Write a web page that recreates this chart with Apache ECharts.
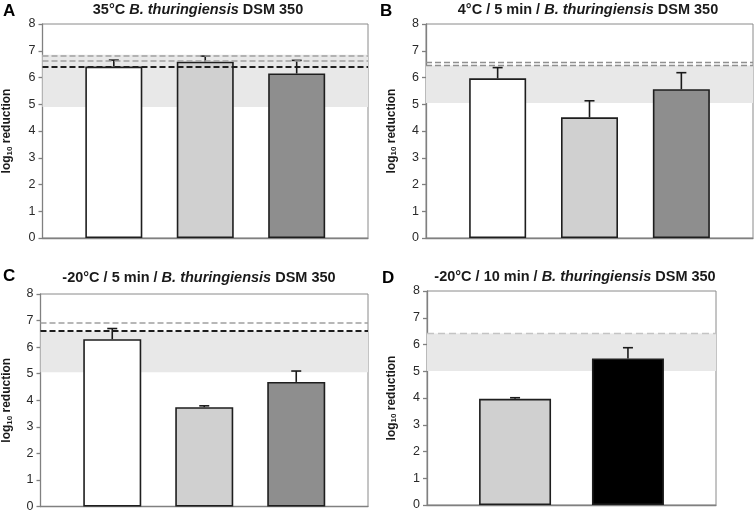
<!DOCTYPE html>
<html><head><meta charset="utf-8">
<script src="https://cdn.jsdelivr.net/npm/echarts@6/dist/echarts.min.js"></script>
<style>html,body{margin:0;padding:0;background:#fff}#c{width:755px;height:513px}</style>
</head><body><div id="c"></div>
<script>
// ---------------- data ----------------
const panelLetters = ['A', 'B', 'C', 'D'];
const titleLead = ['35°C ', '4°C / 5 min / ', '-20°C / 5 min / ', '-20°C / 10 min / '];
const titleSpecies = 'B. thuringiensis';
const titleTail = ' DSM 350';
const yTicks = [0, 1, 2, 3, 4, 5, 6, 7, 8];

// bar categories (position order) and kind of each bar
const catsA = [1, 2, 3]; const kindsA = ['white', 'light', 'dark'];
const meanA = [6.41, 6.59, 6.15]; const sdA = [0.24, 0.21, 0.49];
const bandA = [4.9, 6.85]; const greyLinesA = [6.81, 6.63]; const blackLinesA = [6.41];

const catsB = [1, 2, 3]; const kindsB = ['white', 'light', 'dark'];
const meanB = [5.97, 4.51, 5.56]; const sdB = [0.40, 0.62, 0.62];
const bandB = [5.05, 6.45]; const greyLinesB = [6.56, 6.45]; const blackLinesB = [];

const catsC = [1, 2, 3]; const kindsC = ['white', 'light', 'dark'];
const meanC = [6.30, 3.74, 4.69]; const sdC = [0.40, 0.05, 0.41];
const bandC = [5.05, 6.60]; const greyLinesC = [6.91]; const blackLinesC = [6.60];

const catsD = [1, 2]; const kindsD = ['light', 'black'];
const meanD = [3.97, 5.48]; const sdD = [0.04, 0.40];
const bandD = [5.01, 6.41]; const faintLinesD = [6.41];

// ---------------- styles / layout ----------------
const FONT = 'Arial, "Liberation Sans", sans-serif';
const fills = { white: '#ffffff', light: '#d0d0d0', dark: '#8e8e8e', black: '#000000' };
const grids = [
  { left: 42, top: 24, width: 326, height: 214 },
  { left: 426, top: 24, width: 327, height: 214 },
  { left: 39, top: 294, width: 329, height: 213 },
  { left: 427, top: 291, width: 289, height: 214 }
];
const titlePos = [{ x: 198, y: 2 }, { x: 588, y: 2 }, { x: 199, y: 270 }, { x: 575, y: 269 }];
const letterPos = [{ x: 3, y: 3 }, { x: 380, y: 3 }, { x: 3, y: 268 }, { x: 382, y: 270 }];
const nameGaps = [29, 28, 27, 29];
const barWidths = [57, 57, 58, 72];

const panels = [
  { cats: catsA, kinds: kindsA, mean: meanA, sd: sdA, band: bandA, grey: greyLinesA, black: blackLinesA, faint: [] },
  { cats: catsB, kinds: kindsB, mean: meanB, sd: sdB, band: bandB, grey: greyLinesB, black: blackLinesB, faint: [] },
  { cats: catsC, kinds: kindsC, mean: meanC, sd: sdC, band: bandC, grey: greyLinesC, black: blackLinesC, faint: [] },
  { cats: catsD, kinds: kindsD, mean: meanD, sd: sdD, band: bandD, grey: [], black: [], faint: faintLinesD }
];

function errRender(params, api) {
  const x = api.value(0), m = api.value(1), s = api.value(2);
  const p0 = api.coord([x, m]);
  const p1 = api.coord([x, m + s]);
  const hw = 5;
  const st = { stroke: '#1a1a1a', lineWidth: 1.6 };
  return {
    type: 'group', children: [
      { type: 'line', shape: { x1: p0[0], y1: p0[1], x2: p1[0], y2: p1[1] }, style: st },
      { type: 'line', shape: { x1: p1[0] - hw, y1: p1[1], x2: p1[0] + hw, y2: p1[1] }, style: st }
    ]
  };
}

const option = { animation: false, backgroundColor: '#fff', title: [], grid: [], xAxis: [], yAxis: [], series: [] };

panels.forEach((p, i) => {
  option.grid.push(Object.assign({ show: true, borderColor: '#8a8a8a', borderWidth: 1, backgroundColor: 'transparent' }, grids[i]));
  option.title.push({
    text: '{r|' + titleLead[i] + '}{it|' + titleSpecies + '}{r|' + titleTail + '}',
    left: titlePos[i].x, top: titlePos[i].y, textAlign: 'center', padding: 0,
    textStyle: {
      fontFamily: FONT, fontSize: 14.5, fontWeight: 'bold', color: '#1a1a1a',
      rich: {
        r: { fontFamily: FONT, fontSize: 14.5, fontWeight: 'bold', color: '#1a1a1a' },
        it: { fontFamily: FONT, fontSize: 14.5, fontWeight: 'bold', fontStyle: 'italic', color: '#1a1a1a' }
      }
    }
  });
  option.title.push({
    text: panelLetters[i], left: letterPos[i].x, top: letterPos[i].y, padding: 0,
    textStyle: { fontFamily: FONT, fontSize: 17, fontWeight: 'bold', color: '#000' }
  });
  const n = p.cats.length;
  option.xAxis.push({
    type: 'value', gridIndex: i, min: p.cats[0] - 0.78, max: p.cats[n - 1] + 0.78,
    axisLine: { show: true, onZero: false, lineStyle: { color: '#808080', width: 1.3 } },
    axisTick: { show: false }, axisLabel: { show: false }, splitLine: { show: false }
  });
  option.yAxis.push({
    type: 'value', gridIndex: i, min: yTicks[0], max: yTicks[yTicks.length - 1], interval: 1,
    name: '{n|log}{s|10}{n| reduction}', nameLocation: 'middle', nameGap: nameGaps[i],
    nameTextStyle: {
      fontFamily: FONT, fontWeight: 'bold', fontSize: 12, color: '#1a1a1a',
      rich: {
        n: { fontFamily: FONT, fontWeight: 'bold', fontSize: 12, color: '#1a1a1a' },
        s: { fontFamily: FONT, fontWeight: 'bold', fontSize: 8, color: '#1a1a1a', verticalAlign: 'bottom', padding: [5, 0, 0, 0] }
      }
    },
    axisLine: { show: true, lineStyle: { color: '#808080', width: 1.3 } },
    axisTick: { show: true, length: 4, lineStyle: { color: '#808080', width: 1.3 } },
    axisLabel: { fontFamily: FONT, fontSize: 12.5, color: '#2a2a2a', margin: 7 },
    splitLine: { show: false }
  });
  const lines = [];
  const twin = p.grey.length > 1 && i === 1;
  p.grey.forEach(v => lines.push({ yAxis: v, lineStyle: { color: twin ? '#909090' : '#a0a0a0', width: twin ? 1.4 : 1.6, type: [6, 3] } }));
  p.black.forEach(v => lines.push({ yAxis: v, lineStyle: { color: '#1e1e1e', width: 2, type: [6, 3] } }));
  p.faint.forEach(v => lines.push({ yAxis: v, lineStyle: { color: '#c4c4c4', width: 1.3, type: [7, 4] } }));
  option.series.push({
    type: 'bar', xAxisIndex: i, yAxisIndex: i, barWidth: barWidths[i],
    data: p.cats.map((c, k) => ({ value: [c, p.mean[k]], itemStyle: { color: fills[p.kinds[k]] } })),
    itemStyle: { borderColor: '#1e1e1e', borderWidth: 1.6 },
    markArea: { silent: true, itemStyle: { color: '#e8e8e8' }, data: [[{ yAxis: p.band[0] }, { yAxis: p.band[1] }]] },
    markLine: { silent: true, symbol: ['none', 'none'], label: { show: false }, animation: false, z: 5, data: lines }
  });
  option.series.push({
    type: 'custom', xAxisIndex: i, yAxisIndex: i, z: 4, silent: true,
    data: p.cats.map((c, k) => [c, p.mean[k], p.sd[k]]),
    renderItem: errRender
  });
});

const chart = echarts.init(document.getElementById('c'), null, { renderer: 'canvas' });
chart.setOption(option);
</script>
</body></html>
